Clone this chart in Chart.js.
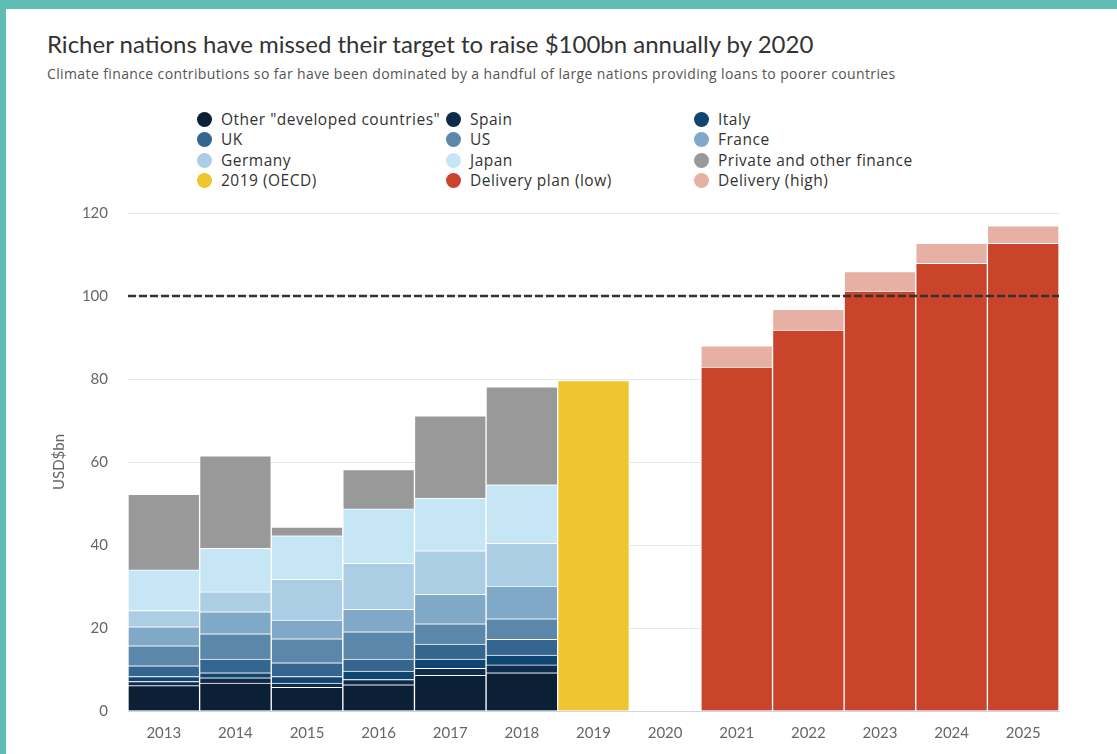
<!DOCTYPE html>
<html lang="en">

<head>
    <meta charset="UTF-8">
    <title>Climate finance</title>
    <script src="https://cdn.jsdelivr.net/npm/chart.js"></script>
    <style>
        body {
            margin: 0;
            width: 1117px;
            height: 754px;
            overflow: hidden;
            background: #fff;
            font-family: Lato, "Open Sans", sans-serif;
            color: #333;
        }

        .frame {
            position: absolute;
            left: 0;
            top: 0;
            width: 1117px;
            height: 754px;
            border-top: 9px solid #5fbcb3;
            border-left: 6px solid #5fbcb3;
            box-sizing: border-box;
        }

        h1 {
            position: absolute;
            left: 47px;
            top: 29px;
            margin: 0;
            font-size: 24px;
            font-weight: normal;
            color: #333;
        }

        .sub {
            position: absolute;
            left: 47px;
            top: 64px;
            font-family: "Open Sans", sans-serif;
            font-size: 14px;
            letter-spacing: 0.38px;
            color: #555;
        }

        #legend {
            position: absolute;
            left: 197px;
            top: 109px;
            display: grid;
            grid-template-columns: 249px 248px 220px;
            row-gap: 0;
        }

        #legend div {
            height: 20.3px;
            line-height: 20px;
            font-family: "Open Sans", sans-serif;
            font-size: 15.5px;
            letter-spacing: 0.5px;
            color: #333;
            white-space: nowrap;
        }

        #legend span {
            display: inline-block;
            width: 15px;
            height: 15px;
            border-radius: 50%;
            margin-right: 9px;
            vertical-align: -2px;
        }

        .chart-box {
            position: absolute;
            left: 0;
            top: 184px;
            width: 1117px;
            height: 570px;
        }
    </style>
</head>

<body>
    <div class="frame"></div>
    <h1>Richer nations have missed their target to raise $100bn annually by 2020</h1>
    <div class="sub">Climate finance contributions so far have been dominated by a handful of large nations providing loans to poorer countries</div>
    <div id="legend"></div>
    <div class="chart-box"><canvas id="chart"></canvas></div>

    <script>
        // years on the x axis
        const years = ['2013', '2014', '2015', '2016', '2017', '2018', '2019', '2020', '2021', '2022', '2023', '2024', '2025'];

        // contributions 2013-2018, USD bn
        const otherDeveloped = [6.1, 6.7, 5.7, 6.3, 8.6, 9.2];
        const spain = [1.0, 1.3, 1.0, 1.3, 1.7, 1.9];
        const italy = [1.2, 1.2, 1.6, 2.0, 2.2, 2.4];
        const uk = [2.6, 3.3, 3.3, 2.9, 3.6, 3.8];
        const us = [4.8, 6.1, 5.8, 6.6, 4.9, 4.9];
        const france = [4.6, 5.3, 4.5, 5.4, 7.1, 7.9];
        const germany = [3.9, 4.8, 9.8, 11.1, 10.5, 10.3];
        const japan = [9.8, 10.5, 10.5, 13.1, 12.7, 14.1];
        const privateFinance = [18.2, 22.3, 2.1, 9.5, 19.8, 23.6];

        // 2019 OECD total and delivery plan 2021-2025
        const oecd2019 = 79.6;
        const deliveryLow = [82.9, 91.8, 101.2, 107.9, 112.7];
        const deliveryHighExtra = [5.1, 5.0, 4.7, 4.8, 4.2];

        const target = 100;

        const yTicks = [0, 20, 40, 60, 80, 100, 120];

        // pad a short series out to all 13 years
        function place(values, startIndex) {
            const out = years.map(() => null);
            values.forEach((v, i) => { out[startIndex + i] = v; });
            return out;
        }

        const series = [
            { label: 'Other "developed countries"', data: place(otherDeveloped, 0), color: '#0b1f35' },
            { label: 'Spain', data: place(spain, 0), color: '#0f2b4b' },
            { label: 'Italy', data: place(italy, 0), color: '#0f4571' },
            { label: 'UK', data: place(uk, 0), color: '#35668f' },
            { label: 'US', data: place(us, 0), color: '#5b87ab' },
            { label: 'France', data: place(france, 0), color: '#80a8c7' },
            { label: 'Germany', data: place(germany, 0), color: '#abcee5' },
            { label: 'Japan', data: place(japan, 0), color: '#c6e6f6' },
            { label: 'Private and other finance', data: place(privateFinance, 0), color: '#999999' },
            { label: '2019 (OECD)', data: place([oecd2019], 6), color: '#eec42f' },
            { label: 'Delivery plan (low)', data: place(deliveryLow, 8), color: '#c9442b' },
            { label: 'Delivery (high)', data: place(deliveryHighExtra, 8), color: '#e6b0a5' }
        ];

        // legend built from the series
        const legend = document.getElementById('legend');
        series.forEach(s => {
            const item = document.createElement('div');
            item.innerHTML = '<span style="background:' + s.color + '"></span>';
            item.appendChild(document.createTextNode(s.label));
            legend.appendChild(item);
        });

        // dashed target line across the plot
        const targetLine = {
            id: 'targetLine',
            afterDatasetsDraw(chart) {
                const { ctx, chartArea, scales } = chart;
                const y = scales.y.getPixelForValue(target);
                ctx.save();
                ctx.strokeStyle = '#333';
                ctx.lineWidth = 2.5;
                ctx.setLineDash([8, 3]);
                ctx.beginPath();
                ctx.moveTo(chartArea.left, y);
                ctx.lineTo(chartArea.right, y);
                ctx.stroke();
                ctx.restore();
            }
        };

        new Chart(document.getElementById('chart'), {
            type: 'bar',
            data: {
                labels: years,
                datasets: series.map(s => ({
                    label: s.label,
                    data: s.data,
                    backgroundColor: s.color,
                    borderColor: '#ffffff',
                    borderWidth: 1,
                    barPercentage: 1,
                    categoryPercentage: 1
                }))
            },
            options: {
                responsive: true,
                maintainAspectRatio: false,
                animation: false,
                layout: { padding: { left: 50, right: 58, top: 12, bottom: 0 } },
                plugins: {
                    legend: { display: false },
                    tooltip: { enabled: false }
                },
                scales: {
                    x: {
                        stacked: true,
                        grid: { display: false },
                        border: { display: true, color: '#ccd6eb', width: 1 },
                        ticks: { color: '#666', font: { family: 'Lato', size: 15 }, padding: 5 },
                        afterFit: s => { s.height = 43; }
                    },
                    y: {
                        stacked: true,
                        min: 0,
                        max: 120,
                        afterBuildTicks: s => { s.ticks = yTicks.map(v => ({ value: v })); },
                        grid: { color: '#e6e6e6', drawTicks: false },
                        border: { display: false },
                        ticks: { color: '#666', font: { family: 'Lato', size: 15 }, padding: 20 },
                        title: { display: true, text: 'USD$bn', color: '#666', font: { family: 'Lato', size: 15 }, padding: 0 },
                        afterFit: s => { s.width = 78; }
                    }
                }
            },
            plugins: [targetLine]
        });
    </script>
</body>

</html>
